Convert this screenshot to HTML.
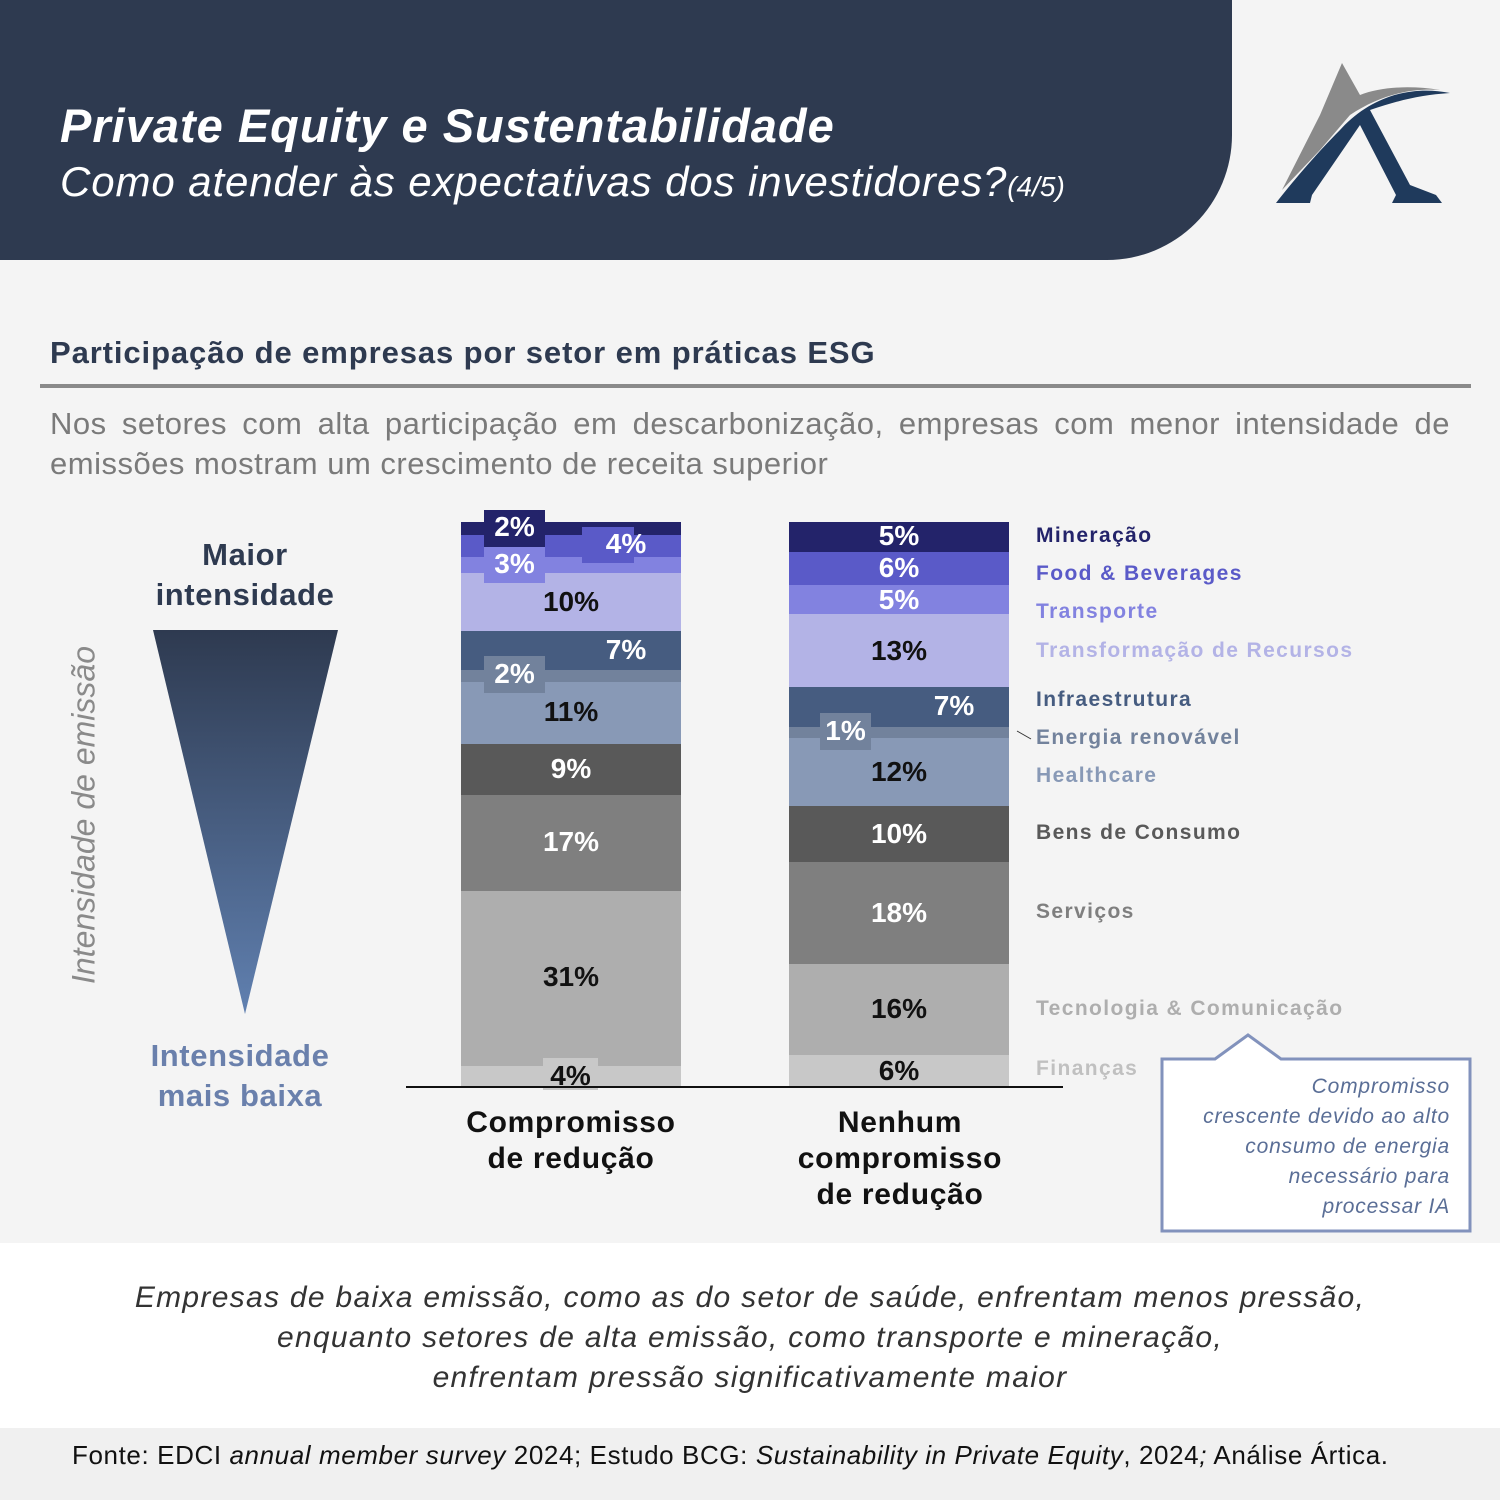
<!DOCTYPE html>
<html><head><meta charset="utf-8">
<style>
*{margin:0;padding:0;box-sizing:border-box}
body{width:1500px;height:1500px;background:#f4f4f4;font-family:"Liberation Sans",sans-serif;position:relative;overflow:hidden}
.a{position:absolute}
.seg{position:absolute;left:0;width:220px}
.lb{position:absolute;font-weight:bold;font-size:28px;text-align:center;line-height:1}
.lg{position:absolute;left:1036px;font-weight:bold;font-size:21px;letter-spacing:1.4px}
</style></head><body>
<div class="a" style="left:0;top:0;width:1232px;height:260px;background:#2e3a50;border-bottom-right-radius:125px"></div>
<div class="a" style="left:60px;top:98px;color:#fff;font-size:47px;font-weight:bold;font-style:italic;letter-spacing:1px">Private Equity e Sustentabilidade</div>
<div class="a" style="left:60px;top:158px;color:#fff;font-size:42px;font-style:italic;letter-spacing:0.9px">Como atender às expectativas dos investidores?<span style="font-size:28px;letter-spacing:0">(4/5)</span></div>
<svg class="a" style="left:1260px;top:55px" width="200" height="155">
<path d="M82 8 L60 60 L22 135 L60 95 L90 60 C120 40 150 33 180 35 C150 30 120 32 100 40 Z" fill="#8a8a8a"/>
<path d="M16 148 L50 148 L52 140 L100 70 L136 140 L132 148 L182 148 L176 140 L150 130 L110 55 C140 45 160 40 190 38 C150 30 110 42 80 75 C55 100 30 130 16 148Z" fill="#1f3a5c"/>
</svg>
<div class="a" style="left:50px;top:335px;font-size:31px;font-weight:bold;color:#2e3a50;letter-spacing:0.9px">Participação de empresas por setor em práticas ESG</div>
<div class="a" style="left:40px;top:384px;width:1431px;height:4px;background:#8a8a8a"></div>
<div class="a" style="left:50px;top:404px;width:1400px;font-size:31px;color:#7a7a7a;line-height:40px;text-align:justify;text-align-last:left;letter-spacing:0.5px">Nos setores com alta participação em descarbonização, empresas com menor intensidade de emissões mostram um crescimento de receita superior</div>

<div class="a" style="left:140px;top:535px;width:210px;text-align:center;font-size:31px;font-weight:bold;color:#2e3a50;line-height:40px;letter-spacing:0.6px">Maior<br>intensidade</div>
<svg class="a" style="left:150px;top:628px" width="192" height="390"><defs><linearGradient id="g" x1="0" y1="0" x2="0" y2="1"><stop offset="0" stop-color="#2e3a50"/><stop offset="1" stop-color="#6080b0"/></linearGradient></defs><polygon points="3,2 188,2 95,386" fill="url(#g)"/></svg>
<div class="a" style="left:135px;top:1036px;width:210px;text-align:center;font-size:31px;font-weight:bold;color:#6a80ac;line-height:40px;letter-spacing:0.6px">Intensidade<br>mais baixa</div>
<div class="a" style="left:84px;top:815px;transform:translate(-50%,-50%) rotate(-90deg);white-space:nowrap;font-size:32px;font-style:italic;color:#8a8a8a">Intensidade de emissão</div>

<div class="a" style="left:461px;top:522px;width:220px;height:565px">
<div class="seg" style="top:0;height:13px;background:#23236a"></div>
<div class="seg" style="top:13px;height:22px;background:#5a5ac8"></div>
<div class="seg" style="top:35px;height:16px;background:#8282e0"></div>
<div class="seg" style="top:51px;height:58px;background:#b3b3e6"></div>
<div class="seg" style="top:109px;height:39px;background:#465c80"></div>
<div class="seg" style="top:148px;height:12px;background:#72829c"></div>
<div class="seg" style="top:160px;height:62px;background:#8899b6"></div>
<div class="seg" style="top:222px;height:51px;background:#595959"></div>
<div class="seg" style="top:273px;height:96px;background:#7f7f7f"></div>
<div class="seg" style="top:369px;height:175px;background:#aeaeae"></div>
<div class="seg" style="top:544px;height:21px;background:#c8c8c8"></div>
</div>
<div class="a" style="left:484px;top:510px;width:61px;height:37px;background:#23236a"></div>
<div class="a" style="left:484px;top:547px;width:61px;height:36px;background:#8282e0"></div>
<div class="a" style="left:582px;top:527px;width:52px;height:36px;background:#5a5ac8"></div>
<div class="a" style="left:484px;top:656px;width:61px;height:37px;background:#72829c"></div>
<div class="a" style="left:543px;top:1058px;width:55px;height:32px;background:#c8c8c8"></div>
<div class="lb" style="left:484px;top:513px;width:61px;color:#fff">2%</div>
<div class="lb" style="left:484px;top:550px;width:61px;color:#fff">3%</div>
<div class="lb" style="left:582px;top:530px;width:88px;color:#fff">4%</div>
<div class="lb" style="left:461px;top:588px;width:220px;color:#111">10%</div>
<div class="lb" style="left:582px;top:636px;width:88px;color:#fff">7%</div>
<div class="lb" style="left:484px;top:660px;width:61px;color:#fff">2%</div>
<div class="lb" style="left:461px;top:698px;width:220px;color:#111">11%</div>
<div class="lb" style="left:461px;top:755px;width:220px;color:#fff">9%</div>
<div class="lb" style="left:461px;top:828px;width:220px;color:#fff">17%</div>
<div class="lb" style="left:461px;top:963px;width:220px;color:#111">31%</div>
<div class="lb" style="left:543px;top:1062px;width:55px;color:#111">4%</div>

<div class="a" style="left:789px;top:522px;width:220px;height:565px">
<div class="seg" style="top:0;height:30px;background:#23236a"></div>
<div class="seg" style="top:30px;height:33px;background:#5a5ac8"></div>
<div class="seg" style="top:63px;height:29px;background:#8282e0"></div>
<div class="seg" style="top:92px;height:73px;background:#b3b3e6"></div>
<div class="seg" style="top:165px;height:40px;background:#465c80"></div>
<div class="seg" style="top:205px;height:11px;background:#72829c"></div>
<div class="seg" style="top:216px;height:68px;background:#8899b6"></div>
<div class="seg" style="top:284px;height:56px;background:#595959"></div>
<div class="seg" style="top:340px;height:102px;background:#7f7f7f"></div>
<div class="seg" style="top:442px;height:91px;background:#aeaeae"></div>
<div class="seg" style="top:533px;height:32px;background:#c8c8c8"></div>
</div>
<div class="a" style="left:820px;top:713px;width:51px;height:37px;background:#72829c"></div>
<div class="lb" style="left:789px;top:522px;width:220px;color:#fff">5%</div>
<div class="lb" style="left:789px;top:554px;width:220px;color:#fff">6%</div>
<div class="lb" style="left:789px;top:586px;width:220px;color:#fff">5%</div>
<div class="lb" style="left:789px;top:637px;width:220px;color:#111">13%</div>
<div class="lb" style="left:920px;top:692px;width:68px;color:#fff">7%</div>
<div class="lb" style="left:820px;top:717px;width:51px;color:#fff">1%</div>
<div class="lb" style="left:789px;top:758px;width:220px;color:#111">12%</div>
<div class="lb" style="left:789px;top:820px;width:220px;color:#fff">10%</div>
<div class="lb" style="left:789px;top:899px;width:220px;color:#fff">18%</div>
<div class="lb" style="left:789px;top:995px;width:220px;color:#111">16%</div>
<div class="lb" style="left:789px;top:1057px;width:220px;color:#111">6%</div>

<div class="a" style="left:406px;top:1086px;width:657px;height:2px;background:#111"></div>
<div class="a" style="left:430px;top:1105px;width:282px;text-align:center;font-size:30px;font-weight:bold;color:#111;line-height:36px;letter-spacing:0.7px">Compromisso<br>de redução</div>
<div class="a" style="left:759px;top:1105px;width:282px;text-align:center;font-size:30px;font-weight:bold;color:#111;line-height:36px;letter-spacing:0.7px">Nenhum<br>compromisso<br>de redução</div>

<div class="lg" style="top:524px;color:#23236a">Mineração</div>
<div class="lg" style="top:562px;color:#5a5ac8">Food &amp; Beverages</div>
<div class="lg" style="top:600px;color:#8282e0">Transporte</div>
<div class="lg" style="top:639px;color:#b3b3e6">Transformação de Recursos</div>
<div class="lg" style="top:688px;color:#465c80">Infraestrutura</div>
<div class="lg" style="top:726px;color:#72829c">Energia renovável</div>
<div class="lg" style="top:764px;color:#8899b6">Healthcare</div>
<div class="lg" style="top:821px;color:#595959">Bens de Consumo</div>
<div class="lg" style="top:900px;color:#7f7f7f">Serviços</div>
<div class="lg" style="top:997px;color:#aeaeae">Tecnologia &amp; Comunicação</div>
<div class="lg" style="top:1057px;color:#c0c0c0">Finanças</div>
<svg class="a" style="left:1015px;top:728px" width="20" height="14"><line x1="2" y1="3" x2="16" y2="11" stroke="#333" stroke-width="1"/></svg>

<svg class="a" style="left:1160px;top:1032px" width="314" height="202"><path d="M2 27 L55 27 L88 3 L121 27 L310 27 L310 199 L2 199 Z" fill="#fff" stroke="#8292bc" stroke-width="3"/></svg>
<div class="a" style="left:1170px;top:1072px;width:280px;text-align:right;font-size:21px;font-style:italic;color:#5a6e96;line-height:30px;letter-spacing:0.8px;white-space:nowrap">Compromisso<br>crescente devido ao alto<br>consumo de energia<br>necessário para<br>processar IA</div>

<div class="a" style="left:0;top:1243px;width:1500px;height:185px;background:#fff"></div>
<div class="a" style="left:0;top:1278px;width:1500px;text-align:center;font-size:30px;font-style:italic;color:#333;line-height:40px;letter-spacing:1.3px">Empresas de baixa emissão, como as do setor de saúde, enfrentam menos pressão,<br>enquanto setores de alta emissão, como transporte e mineração,<br>enfrentam pressão significativamente maior</div>
<div class="a" style="left:0;top:1428px;width:1500px;height:72px;background:#f0f0f0"></div>
<div class="a" style="left:72px;top:1440px;font-size:26px;color:#111;letter-spacing:0.6px">Fonte: EDCI <i>annual member survey</i> 2024; Estudo BCG: <i>Sustainability in Private Equity</i>, 2024<i>;</i> Análise Ártica.</div>
</body></html>
